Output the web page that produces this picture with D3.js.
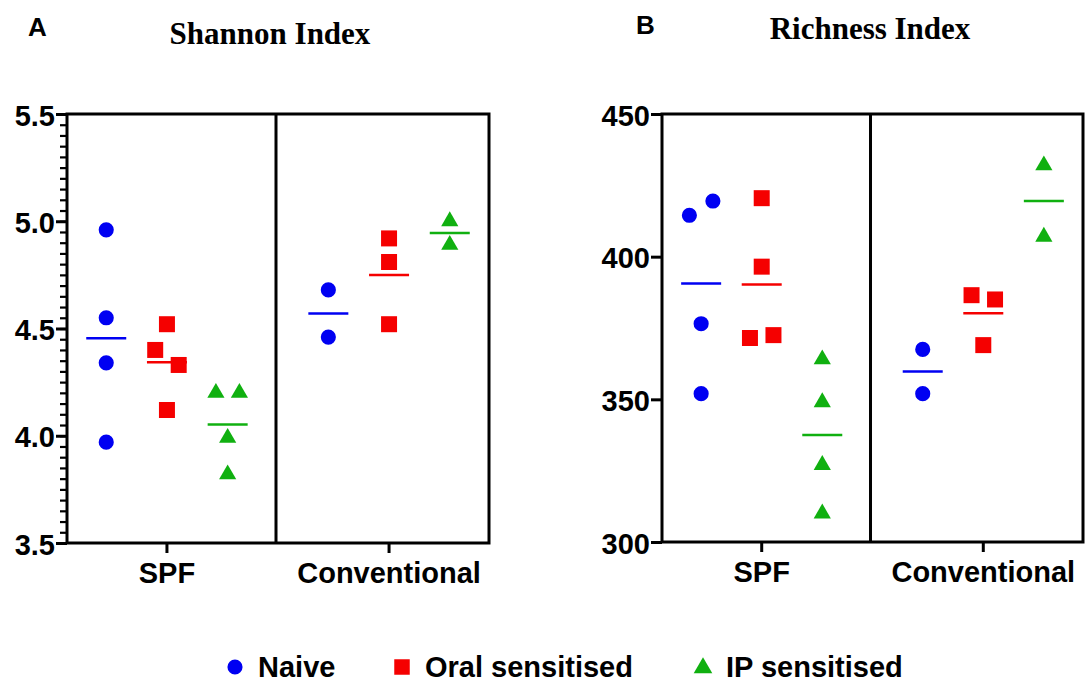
<!DOCTYPE html>
<html>
<head>
<meta charset="utf-8">
<script src="https://cdn.jsdelivr.net/npm/d3@7"></script>
<style>
  html, body { margin: 0; padding: 0; background: #fff; }
  svg { display: block; }
  .sans { font-family: "Liberation Sans", Arial, Helvetica, sans-serif; font-weight: bold; }
  .serif { font-family: "Liberation Serif", "Times New Roman", serif; font-weight: bold; }
</style>
</head>
<body>
<svg id="chart" width="1090" height="684"></svg>
<script>
// Housing conditions and treatment groups
const categories = ['SPF', 'Conventional'];
const groups = ['Naive', 'Oral sensitised', 'IP sensitised'];
const groupColors = ['#0000f2', '#f50000', '#10b010'];

// Shannon diversity per mouse, one inner array per housing condition
const shannonNaive = [[4.96, 4.55, 4.34, 3.97], [4.68, 4.46]];
const shannonOral  = [[4.52, 4.40, 4.33, 4.12], [4.92, 4.81, 4.52]];
const shannonIP    = [[4.20, 4.20, 3.99, 3.82], [5.00, 4.89]];
const shannonTicks = [3.5, 4.0, 4.5, 5.0, 5.5];

// Observed richness per mouse
const richnessNaive = [[414.5, 419.5, 376.5, 352], [367.5, 352]];
const richnessOral  = [[420.5, 396.5, 371.5, 372.5], [386.5, 385, 369]];
const richnessIP    = [[364, 349, 327, 310], [432, 407]];
const richnessTicks = [300, 350, 400, 450];

const svg = d3.select('#chart');

const symbolTypes = [d3.symbolCircle, d3.symbolSquare, d3.symbolTriangle];
const symbolSizes = [180, 256, 128];

function drawPanel(opt) {
  const { left, right, top, bottom, domain, ticks, minorStep, fmt, series, letter, letterX, letterY, title, titleX, titleY } = opt;

  const y = d3.scaleLinear().domain(domain).range([bottom, top]);
  const x = d3.scaleBand().domain(categories).range([left, right])
    .paddingInner(0.18).paddingOuter(0.04);
  const xg = d3.scaleBand().domain(groups).range([0, x.bandwidth()]);

  const g = svg.append('g');

  // panel letter and title
  g.append('text').attr('class', 'sans').attr('x', letterX).attr('y', letterY)
    .attr('font-size', 26).text(letter);
  g.append('text').attr('class', 'serif').attr('x', titleX).attr('y', titleY)
    .attr('text-anchor', 'middle').attr('font-size', 31).text(title);

  // minor ticks
  if (minorStep) {
    const minor = d3.range(domain[0], domain[1] + minorStep / 2, minorStep);
    g.append('g').attr('transform', `translate(${left},0)`)
      .call(d3.axisLeft(y).tickValues(minor).tickSize(7).tickFormat(''))
      .call(s => s.select('.domain').remove())
      .call(s => s.selectAll('line').attr('stroke', '#000').attr('stroke-width', 2.2));
  }

  // y axis
  g.append('g').attr('transform', `translate(${left},0)`)
    .call(d3.axisLeft(y).tickValues(ticks).tickSize(11).tickPadding(1).tickFormat(fmt))
    .call(s => s.select('.domain').remove())
    .call(s => s.selectAll('line').attr('stroke', '#000').attr('stroke-width', 3))
    .call(s => s.selectAll('text').attr('class', 'sans').attr('font-size', 29)
      .attr('fill', '#000').attr('dy', '0.38em'));

  // x axis ticks and labels
  g.append('g').attr('transform', `translate(0,${bottom})`)
    .call(d3.axisBottom(x).tickSize(10).tickPadding(9))
    .call(s => s.select('.domain').remove())
    .call(s => s.selectAll('line').attr('stroke', '#000').attr('stroke-width', 3))
    .call(s => s.selectAll('text').attr('class', 'sans').attr('font-size', 29)
      .attr('fill', '#000').attr('dy', '0.72em'));

  // frame and divider between housing conditions
  g.append('rect').attr('x', left).attr('y', top)
    .attr('width', right - left).attr('height', bottom - top)
    .attr('fill', 'none').attr('stroke', '#000').attr('stroke-width', 3);
  const gapStart = x(categories[0]) + x.bandwidth();
  const gapEnd = x(categories[1]);
  const divX = gapStart + (gapEnd - gapStart) * 0.45;
  g.append('line').attr('x1', divX).attr('x2', divX).attr('y1', top).attr('y2', bottom)
    .attr('stroke', '#000').attr('stroke-width', 3);

  // points and mean lines
  series.forEach((seriesData, si) => {
    const color = groupColors[si];
    const sym = d3.symbol().type(symbolTypes[si]).size(symbolSizes[si]);
    seriesData.forEach((values, ci) => {
      const cx = x(categories[ci]) + xg(groups[si]) + xg.bandwidth() / 2;
      // spread points whose markers would overlap vertically
      const order = values.map((v, i) => i).sort((a, b) => y(values[a]) - y(values[b]));
      const clusters = [];
      order.forEach((idx, k) => {
        if (k > 0 && Math.abs(y(values[idx]) - y(values[order[k - 1]])) < 18) {
          clusters[clusters.length - 1].push(idx);
        } else {
          clusters.push([idx]);
        }
      });
      const offset = new Array(values.length).fill(0);
      clusters.forEach(c => {
        c.sort((a, b) => a - b);
        c.forEach((idx, j) => { offset[idx] = (j - (c.length - 1) / 2) * 23.5; });
      });

      const mean = d3.mean(values);
      g.append('line')
        .attr('x1', cx - 20).attr('x2', cx + 20)
        .attr('y1', y(mean)).attr('y2', y(mean))
        .attr('stroke', color).attr('stroke-width', 2.5);

      g.selectAll(null).data(values).join('path')
        .attr('d', sym)
        .attr('transform', (d, i) => `translate(${cx + offset[i]},${y(d)})`)
        .attr('fill', color);
    });
  });
}

drawPanel({
  left: 67, right: 489, top: 114, bottom: 543,
  domain: [3.5, 5.5], ticks: shannonTicks, minorStep: 0.05, fmt: d3.format('.1f'),
  series: [shannonNaive, shannonOral, shannonIP],
  letter: 'A', letterX: 28, letterY: 36,
  title: 'Shannon Index', titleX: 270, titleY: 44
});

drawPanel({
  left: 662, right: 1083, top: 114, bottom: 542,
  domain: [300, 450], ticks: richnessTicks, minorStep: null, fmt: d3.format('d'),
  series: [richnessNaive, richnessOral, richnessIP],
  letter: 'B', letterX: 636, letterY: 34,
  title: 'Richness Index', titleX: 870, titleY: 39
});

// legend
const legendX = [235, 402, 703];
const legend = svg.append('g');
groups.forEach((name, i) => {
  const sym = d3.symbol().type(symbolTypes[i]).size([180, 240, 150][i]);
  legend.append('path').attr('d', sym)
    .attr('transform', `translate(${legendX[i]},${i === 2 ? 668 : 667})`)
    .attr('fill', groupColors[i]);
  legend.append('text').attr('class', 'sans')
    .attr('x', legendX[i] + 23).attr('y', 677)
    .attr('font-size', 29).attr('fill', '#000').text(name);
});
</script>
</body>
</html>
